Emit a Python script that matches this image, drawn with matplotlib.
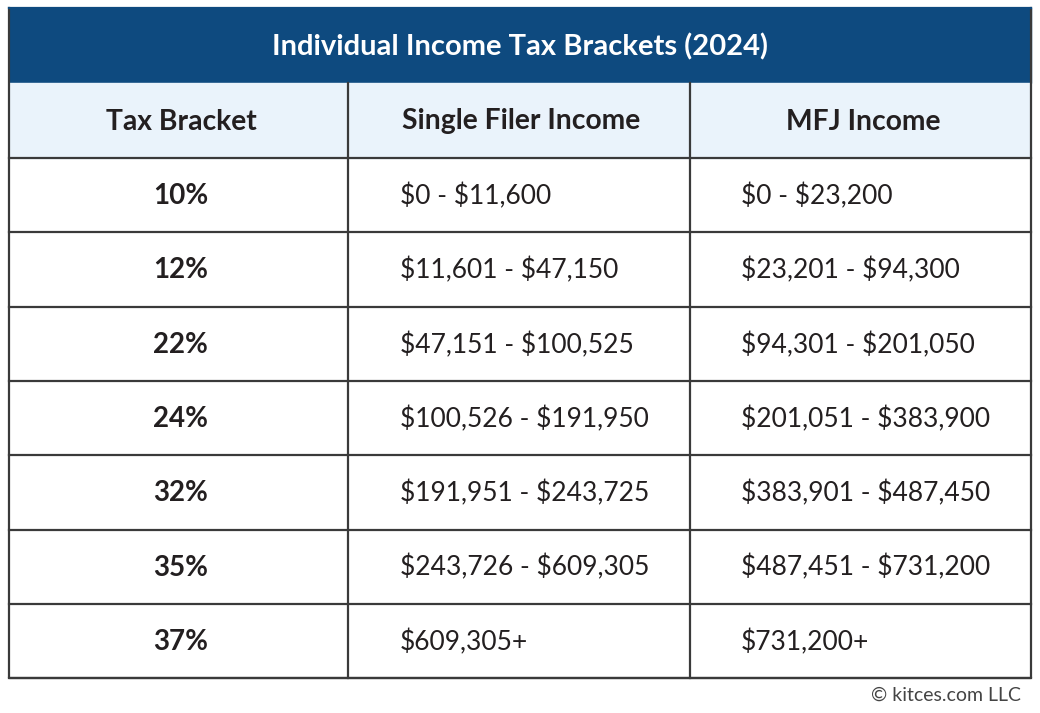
import matplotlib
matplotlib.use("Agg")
import matplotlib.pyplot as plt
from matplotlib.patches import Rectangle

plt.rcParams["text.parse_math"] = False

title = "Individual Income Tax Brackets (2024)"
columns = ["Tax Bracket", "Single Filer Income", "MFJ Income"]
brackets = ["10%", "12%", "22%", "24%", "32%", "35%", "37%"]
single_income = ["$0 - $11,600", "$11,601 - $47,150", "$47,151 - $100,525",
                 "$100,526 - $191,950", "$191,951 - $243,725",
                 "$243,726 - $609,305", "$609,305+"]
mfj_income = ["$0 - $23,200", "$23,201 - $94,300", "$94,301 - $201,050",
              "$201,051 - $383,900", "$383,901 - $487,450",
              "$487,451 - $731,200", "$731,200+"]
credit = "© kitces.com LLC"

W, H = 1040, 713
fig = plt.figure(figsize=(W / 100, H / 100), dpi=100)
ax = fig.add_axes([0, 0, 1, 1])
ax.set_xlim(0, W)
ax.set_ylim(H, 0)
ax.axis("off")

FONT = "Lato"
navy = "#0e4a7f"
light = "#eaf3fb"
line = "#3a3a3a"
txt = "#231f20"

left, right = 9, 1031
top = 8
title_h = 75
head_h = 75
row_h = 74.3
col_x = [left, 348, 690, right]

# title band
ax.add_patch(Rectangle((left, top), right - left, title_h, color=navy, zorder=1))
ax.text((left + right) / 2, top + title_h / 2 + 1, title, color="white",
        fontsize=21, fontweight="bold", family=FONT, ha="center", va="center")

# column header band
hy = top + title_h
ax.add_patch(Rectangle((left, hy), right - left, head_h, color=light, zorder=1))
for i, c in enumerate(columns):
    cx = (col_x[i] + col_x[i + 1]) / 2 + (2 if i == 1 else 3)
    ax.text(cx, hy + head_h / 2 + 1, c, color=txt, fontsize=20.3,
            fontweight="bold", family=FONT, ha="center", va="center")

# body rows
by = hy + head_h
n = len(brackets)
for r in range(n):
    cy = by + r * row_h + row_h / 2 + 1
    ax.text((col_x[0] + col_x[1]) / 2 + 2, cy, brackets[r], color=txt,
            fontsize=20, fontweight="bold", family=FONT, ha="center",
            va="center")
    ax.text(col_x[1] + 52, cy, single_income[r], color=txt, fontsize=19,
            family=FONT, ha="left", va="center")
    ax.text(col_x[2] + 51, cy, mfj_income[r], color=txt, fontsize=19,
            family=FONT, ha="left", va="center")

bottom = by + n * row_h
lw = 1.6
for r in range(n + 1):
    y = by + r * row_h
    ax.plot([left, right], [y, y], color=line, lw=lw, zorder=3)
for x in col_x[1:-1]:
    ax.plot([x, x], [hy, bottom], color=line, lw=lw, zorder=3)
ax.plot([left, left, right, right], [top, bottom, bottom, top], color=line,
        lw=lw, zorder=3)
ax.plot([left, right], [top, top], color=navy, lw=lw, zorder=3)

ax.text(right - 10, bottom + 17, credit, color="#444444", fontsize=14,
        family=FONT, ha="right", va="center")

fig.savefig("out.png", dpi=100, facecolor="white")
